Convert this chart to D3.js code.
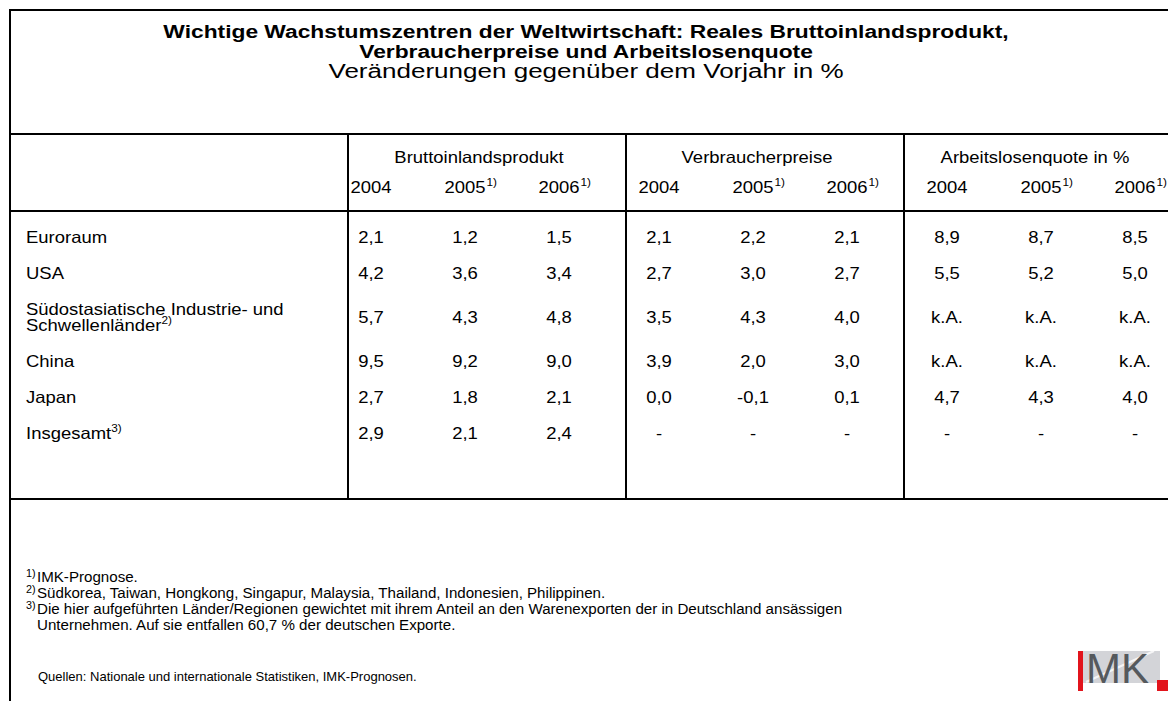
<!DOCTYPE html>
<html>
<head>
<meta charset="utf-8">
<script src="https://cdn.jsdelivr.net/npm/d3@7"></script>
<style>
  body { margin: 0; background: #fff; }
  text { font-family: "Liberation Sans", Arial, sans-serif; fill: #000; }
</style>
</head>
<body>
<div id="chart"></div>
<script>
// --- data ---
const titleLines = [
  "Wichtige Wachstumszentren der Weltwirtschaft: Reales Bruttoinlandsprodukt,",
  "Verbraucherpreise und Arbeitslosenquote"
];
const subtitle = "Veränderungen gegenüber dem Vorjahr in %";
const groups = ["Bruttoinlandsprodukt", "Verbraucherpreise", "Arbeitslosenquote in %"];
const years = ["2004", "2005", "2006"];
const yearNotes = ["", "1)", "1)"];
const regions = [
  ["Euroraum"],
  ["USA"],
  ["Südostasiatische Industrie- und", "Schwellenländer"],
  ["China"],
  ["Japan"],
  ["Insgesamt"]
];
const regionNotes = ["", "", "2)", "", "", "3)"];
const gdp = [[2.1, 1.2, 1.5], [4.2, 3.6, 3.4], [5.7, 4.3, 4.8], [9.5, 9.2, 9.0], [2.7, 1.8, 2.1], [2.9, 2.1, 2.4]];
const prices = [[2.1, 2.2, 2.1], [2.7, 3.0, 2.7], [3.5, 4.3, 4.0], [3.9, 2.0, 3.0], [0.0, -0.1, 0.1], [null, null, null]];
const unemployment = [[8.9, 8.7, 8.5], [5.5, 5.2, 5.0], ["k.A.", "k.A.", "k.A."], ["k.A.", "k.A.", "k.A."], [4.7, 4.3, 4.0], [null, null, null]];
const footnotes = [
  ["1)", "IMK-Prognose."],
  ["2)", "Südkorea, Taiwan, Hongkong, Singapur, Malaysia, Thailand, Indonesien, Philippinen."],
  ["3)", "Die hier aufgeführten Länder/Regionen gewichtet mit ihrem Anteil an den Warenexporten der in Deutschland ansässigen"],
  ["", "Unternehmen. Auf sie entfallen 60,7 % der deutschen Exporte."]
];
const source = "Quellen: Nationale und internationale Statistiken, IMK-Prognosen.";

const width = 1168, height = 701;

const svg = d3.select("#chart").append("svg")
  .attr("width", width)
  .attr("height", height);

// put a text at x,y, stretched sideways (the original glyphs are wider than tall)
function place(sel, x, y, sx = 1.12) {
  return sel.attr("transform", `translate(${x},${y}) scale(${sx},1)`);
}

const de = d3.formatLocale({ decimal: ",", thousands: ".", grouping: [3], currency: ["", " €"], minus: "-" });
const fmt = de.format(".1f");
const cell = v => v === null ? "-" : (typeof v === "string" ? v : fmt(v));

// --- scales ---
// rules between the groups
const xRule = d3.scaleBand().domain(groups).range([348, 1182]);
// value columns
const xGroup = d3.scaleBand().domain(groups).range([321, 1185]);
const xYear = d3.scalePoint().domain(years).range([-94, 94]);
const colX = (g, y) => xGroup(g) + xGroup.bandwidth() / 2 + xYear(y);

// row positions: extra lines make a row taller
const rowPitch = 36, rowExtra = 15.5, lineGap = 16.5, firstBase = 243;
const rowY = [];
let acc = firstBase;
regions.forEach(r => {
  rowY.push(acc);
  acc += rowPitch + rowExtra * (r.length - 1);
});

// --- rules ---
const lines = svg.append("g").attr("stroke", "#000").attr("stroke-width", 2);
lines.append("line").attr("x1", 10).attr("x2", 10).attr("y1", 9).attr("y2", height);
[10, 134, 211, 499].forEach(y => {
  lines.append("line").attr("x1", 9).attr("x2", width).attr("y1", y).attr("y2", y);
});
groups.forEach(g => {
  lines.append("line").attr("x1", xRule(g)).attr("x2", xRule(g)).attr("y1", 134).attr("y2", 499);
});

// --- title ---
const titleX = 586;
titleLines.forEach((t, i) => {
  place(svg.append("text"), titleX, 38 + i * 19.5, 1.2)
    .attr("text-anchor", "middle")
    .attr("font-size", 19)
    .attr("font-weight", "bold")
    .text(t);
});
place(svg.append("text"), titleX, 78, 1.24)
  .attr("text-anchor", "middle")
  .attr("font-size", 21)
  .text(subtitle);

// --- header ---
groups.forEach(g => {
  place(svg.append("text"), xRule(g) + xRule.bandwidth() / 2 - 8, 163)
    .attr("text-anchor", "middle")
    .attr("font-size", 16.5)
    .text(g);
  years.forEach((y, i) => {
    const t = place(svg.append("text"), colX(g, y), 193)
      .attr("text-anchor", "middle")
      .attr("font-size", 16.5)
      .text(y);
    if (yearNotes[i]) {
      const w = t.node().getComputedTextLength() * 1.12;
      place(svg.append("text"), colX(g, y) + w / 2 + 1, 186)
        .attr("font-size", 10.5)
        .text(yearNotes[i]);
    }
  });
});

// --- body ---
regions.forEach((r, i) => {
  const lab = place(svg.append("text"), 26, rowY[i]).attr("font-size", 16.5);
  r.forEach((part, j) => {
    lab.append("tspan").attr("x", 0).attr("y", j * lineGap).text(part);
  });
  if (regionNotes[i]) {
    lab.append("tspan").attr("dy", -7).attr("font-size", 10.5).text(regionNotes[i]);
  }
});

const series = [gdp, prices, unemployment];
series.forEach((data, gi) => {
  const g = groups[gi];
  data.forEach((row, ri) => {
    const r = regions[ri];
    const y = rowY[ri] + (lineGap * (r.length - 1)) / 2;
    row.forEach((v, yi) => {
      place(svg.append("text"), colX(g, years[yi]), y)
        .attr("text-anchor", "middle")
        .attr("font-size", 16.5)
        .text(cell(v));
    });
  });
});

// --- footnotes ---
footnotes.forEach((f, i) => {
  const y = 582 + i * 16;
  if (f[0]) {
    place(svg.append("text"), 26, y - 5, 1.08).attr("font-size", 10).text(f[0]);
  }
  place(svg.append("text"), 37, y, 1.08).attr("font-size", 14).text(f[1]);
});
place(svg.append("text"), 38, 681, 1.0).attr("font-size", 13).text(source);

// --- IMK logo ---
const logo = svg.append("g");
logo.append("rect").attr("x", 1083).attr("y", 651).attr("width", 77).attr("height", 32).attr("fill", "#d3d4d8");
logo.append("line").attr("x1", 1086).attr("y1", 682).attr("x2", 1154).attr("y2", 651)
  .attr("stroke", "#fff").attr("stroke-width", 2).attr("opacity", 0.8);
logo.append("rect").attr("x", 1078).attr("y", 651).attr("width", 5).attr("height", 40).attr("fill", "#e2141c");
logo.append("rect").attr("x", 1157).attr("y", 680).attr("width", 11).attr("height", 11).attr("fill", "#e2141c");
logo.append("text").attr("x", 1086).attr("y", 683)
  .attr("font-size", 42).style("fill", "#55595d").text("MK");
</script>
</body>
</html>
